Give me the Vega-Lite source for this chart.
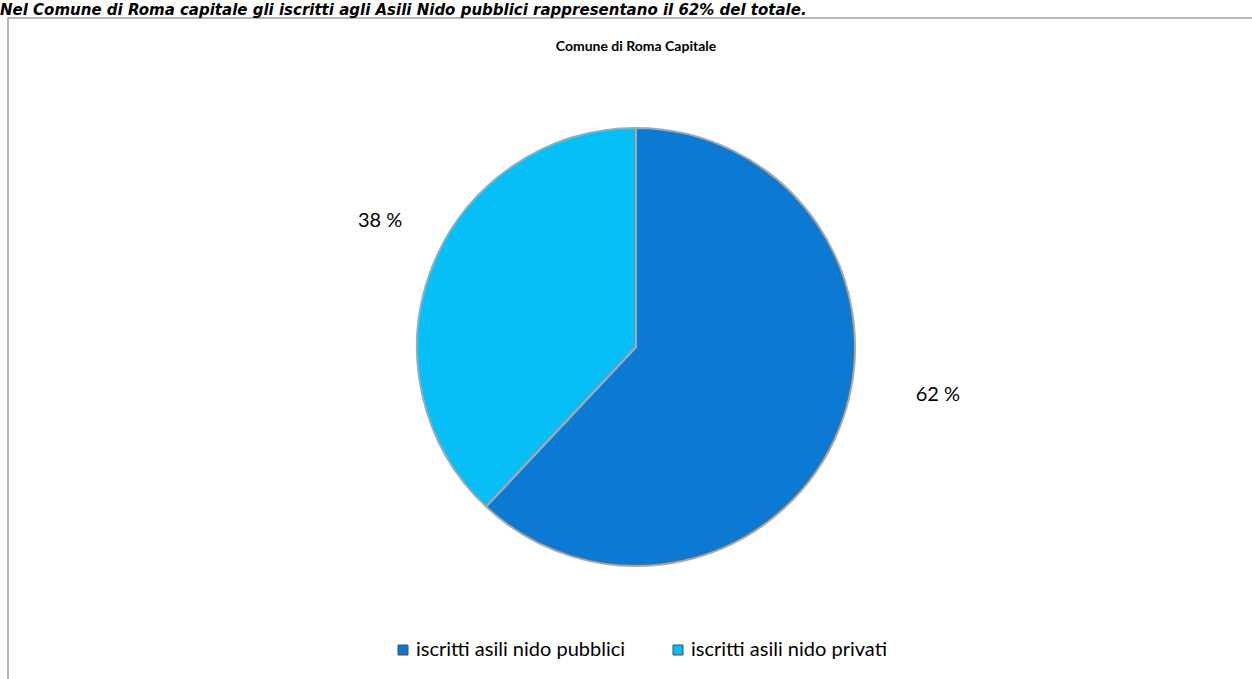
{
  "$schema": "https://vega.github.io/schema/vega-lite/v6.json",
  "width": 1256,
  "height": 662,
  "autosize": {"type": "none"},
  "padding": {"left": 8, "top": 18, "right": 0, "bottom": 0},
  "background": "white",
  "view": {"stroke": "#a0a0a0", "strokeWidth": 1.5},
  "data": {
    "values": [
      {"categoria": "iscritti asili nido pubblici", "percentuale": 62, "etichetta": "62 %"},
      {"categoria": "iscritti asili nido privati", "percentuale": 38, "etichetta": "38 %"}
    ]
  },
  "layer": [
    {
      "mark": {"type": "arc", "outerRadius": 219, "stroke": "#a8a8a8", "strokeWidth": 2, "yOffset": -2},
      "encoding": {
        "theta": {"field": "percentuale", "type": "quantitative", "stack": true},
        "order": {"field": "percentuale", "sort": "descending"},
        "color": {
          "field": "categoria",
          "type": "nominal",
          "scale": {
            "domain": ["iscritti asili nido pubblici", "iscritti asili nido privati"],
            "range": ["#0C79D3", "#08BEF7"]
          },
          "legend": {
            "orient": "none",
            "direction": "horizontal",
            "legendX": 385,
            "legendY": 622,
            "title": null,
            "symbolType": "square",
            "symbolSize": 100,
            "symbolStrokeColor": "#4a4a4a",
            "symbolStrokeWidth": 1,
            "labelFont": "Lato",
            "labelFontSize": 20,
            "labelColor": "black",
            "labelLimit": 0,
            "labelOffset": 3,
            "columnPadding": 42,
            "padding": 0
          }
        }
      }
    },
    {
      "mark": {"type": "text", "radius": 230, "dx": 88, "dy": -39, "font": "Lato", "fontSize": 20, "color": "black", "align": "center", "baseline": "middle"},
      "encoding": {
        "theta": {"field": "percentuale", "type": "quantitative", "stack": true},
        "order": {"field": "percentuale", "sort": "descending"},
        "text": {"condition": {"test": "datum.percentuale == 62", "field": "etichetta"}, "value": ""}
      }
    },
    {
      "mark": {"type": "text", "radius": 230, "dx": -42, "dy": -43, "font": "Lato", "fontSize": 20, "color": "black", "align": "center", "baseline": "middle"},
      "encoding": {
        "theta": {"field": "percentuale", "type": "quantitative", "stack": true},
        "order": {"field": "percentuale", "sort": "descending"},
        "text": {"condition": {"test": "datum.percentuale == 38", "field": "etichetta"}, "value": ""}
      }
    },
    {
      "data": {"values": [{"titolo": "Comune di Roma Capitale"}]},
      "mark": {"type": "text", "dy": -302, "font": "Lato", "fontSize": 14, "fontWeight": "bold", "color": "black", "align": "center", "baseline": "middle"},
      "encoding": {"text": {"field": "titolo"}}
    },
    {
      "data": {"values": [{"frase": "Nel Comune di Roma capitale gli iscritti agli Asili Nido pubblici rappresentano il 62% del totale."}]},
      "mark": {"type": "text", "dx": -636, "dy": -334, "font": "DejaVu Sans", "fontSize": 15, "fontWeight": "bold", "fontStyle": "italic", "color": "black", "align": "left", "baseline": "alphabetic"},
      "encoding": {"text": {"field": "frase"}}
    }
  ]
}
